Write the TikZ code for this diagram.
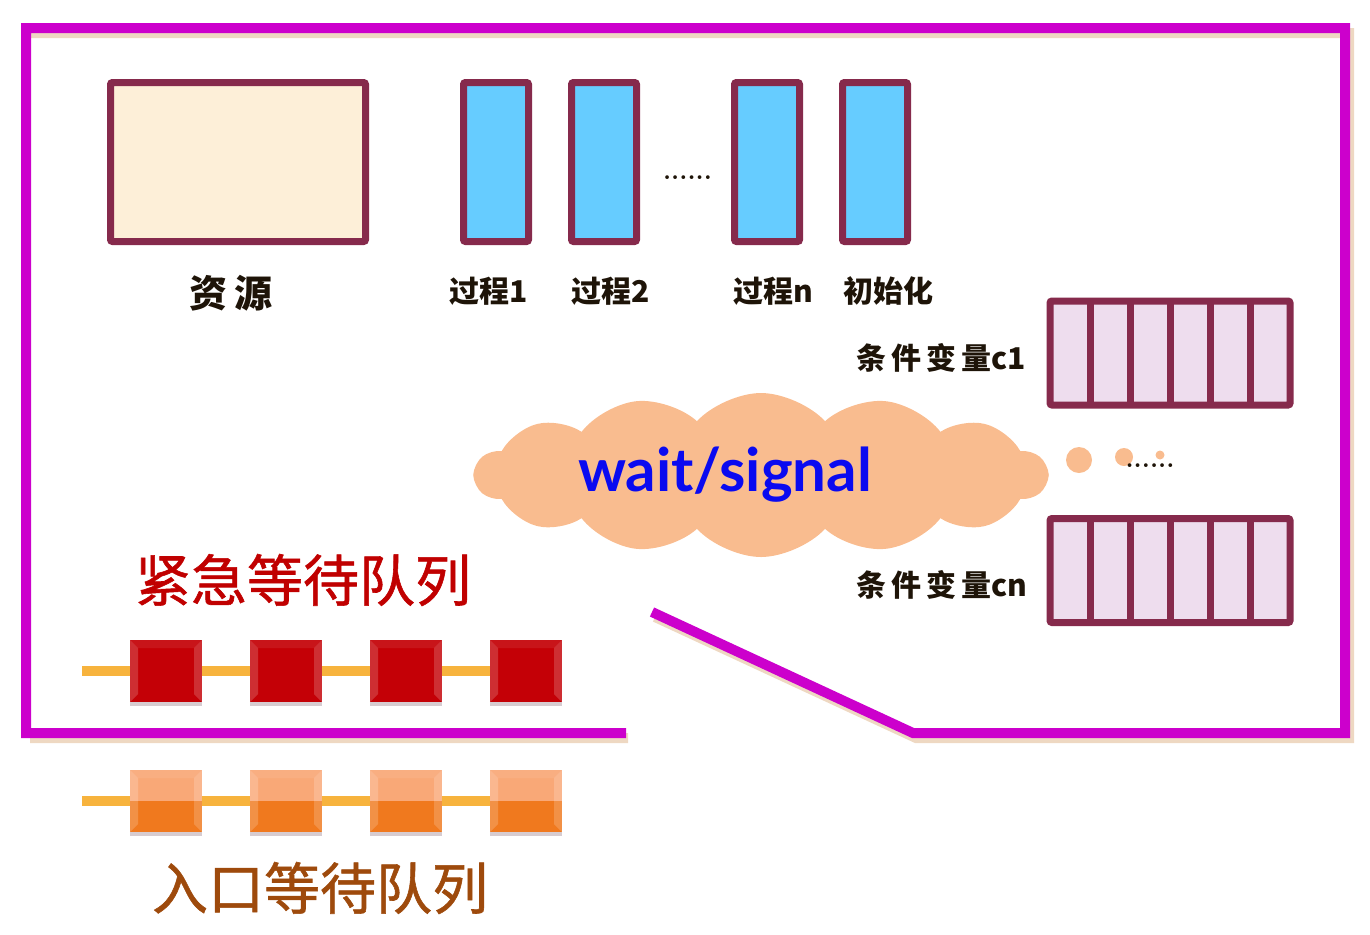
\documentclass[tikz,border=0pt]{standalone}
\usepackage{fontspec}
\usepackage{tikz}
\usetikzlibrary{positioning,calc,shapes.symbols,shadows}
\newfontfamily\cjk{Noto Sans CJK SC}
\newfontfamily\cjkmid{Noto Sans CJK SC}[FakeBold=1]
\newfontfamily\latn{Lato}
\definecolor{frame}{HTML}{CC00CC}
\definecolor{frameshade}{HTML}{EED8C2}
\definecolor{maroon}{HTML}{862A4C}
\definecolor{cream}{HTML}{FDEFD8}
\definecolor{sky}{HTML}{66CCFF}
\definecolor{lav}{HTML}{EEDDEE}
\definecolor{peach}{HTML}{F9BC8F}
\definecolor{redq}{HTML}{C40006}
\definecolor{orq}{HTML}{F0791E}
\definecolor{orlt}{HTML}{F9A877}
\definecolor{qbar}{HTML}{F7B33D}
\definecolor{ink}{HTML}{1E1408}
\definecolor{redtxt}{HTML}{C00000}
\definecolor{browntxt}{HTML}{9E4A0C}
\definecolor{sigblue}{HTML}{0A0AF0}

\newcommand\qbevel{%
  \fill[white,opacity=.18] (path picture bounding box.north west) -- ++(4pt,-4pt)
    -- ($(path picture bounding box.south west)+(4pt,4pt)$) -- (path picture bounding box.south west) -- cycle;
  \fill[white,opacity=.18] (path picture bounding box.north east) -- ++(-4pt,-4pt)
    -- ($(path picture bounding box.south east)+(-4pt,4pt)$) -- (path picture bounding box.south east) -- cycle;
  \fill[white,opacity=.08] (path picture bounding box.north west) -- ++(4pt,-4pt)
    -- ($(path picture bounding box.north east)+(-4pt,-4pt)$) -- (path picture bounding box.north east) -- cycle;}

\tikzset{
  box/.style={draw=maroon, line width=3.5pt, rounded corners=1pt, inner sep=0pt, outer sep=0pt},
  resbox/.style={box, fill=cream, minimum width=127.5pt, minimum height=79.5pt},
  procbox/.style={box, fill=sky, minimum width=32.5pt, minimum height=79.5pt},
  cvbox/.style={box, fill=lav, minimum width=120pt, minimum height=52pt},
  lbl/.style={font=\cjk\bfseries\fontsize{15}{18}\selectfont, text=ink, inner sep=0pt},
  dots/.style={font=\bfseries\fontsize{13}{14}\selectfont, text=ink, inner sep=0pt},
  qtitle/.style={font=\cjkmid\fontsize{28}{32}\selectfont, inner sep=0pt},
  qbox/.style={minimum width=36pt, minimum height=31pt, inner sep=0pt, outer sep=0pt,
    drop shadow={shadow xshift=0pt, shadow yshift=-2pt, opacity=.2, fill=black!70!purple}},
  redbox/.style={qbox, fill=redq, path picture={\qbevel}},
  orbox/.style={qbox, fill=orq, path picture={
    \fill[orlt] (path picture bounding box.north west) rectangle (path picture bounding box.east);
    \qbevel}},
  qline/.style={draw=qbar, line width=5pt},
  bub/.style={circle, fill=peach, inner sep=0pt},
}

\begin{document}
\begin{tikzpicture}[x=0.5pt, y=-0.5pt]
  \useasboundingbox (0,0) rectangle (1370,934);

  % outer frame
  \draw[frameshade, line width=5pt, line join=miter] (628,738) -- (30,738) (30,33) -- (1349,33) -- (1349,738) -- (916,738) -- (655,617);
  \draw[frame, line width=5pt, line join=miter] (626,733) -- (26,733) -- (26,28) -- (1345,28) -- (1345,733) -- (913,733) -- (652,612);

  % resource and processes
  \node[resbox] (res) at (238,162) {};
  \node[procbox] (p1) at (496,162) {};
  \node[procbox, right=21.5pt of p1] (p2) {};
  \node[procbox] (pn) at (767,162) {};
  \node[procbox, right=21.5pt of pn] (init) {};
  \node[dots] (pdots) at ($(p2)!0.5!(pn)+(2,16)$) {......};

  \node[lbl, font=\cjk\bfseries\fontsize{19}{22}\selectfont] (lres) at (231,293) {资\,源};
  \node[lbl] (lp1) at (489,291) {过程1};
  \node[lbl] (lp2) at (611,291) {过程2};
  \node[lbl] (lpn) at (773,291) {过程n};
  \node[lbl] (linit) at (888,291) {初始化};

  % condition variables
  \node[cvbox] (cv1) at (1170,353) {};
  \node[cvbox] (cvn) at (1170,570.5) {};
  \foreach \c in {cv1,cvn}
    \foreach \i in {1,...,5}
      \draw[maroon, line width=3.5pt] ($(\c.north west)!\i/6!(\c.north east)$) -- ($(\c.south west)!\i/6!(\c.south east)$);
  \node[lbl, anchor=east] (lcv1) at (1026,358) {条\,件\,变\,量c1};
  \node[lbl, anchor=east] (lcvn) at (1028,585) {条\,件\,变\,量cn};

  % wait/signal cloud
  \node[cloud, cloud puffs=14, cloud puff arc=95, aspect=3.5, fill=peach, inner sep=0pt,
        minimum width=286pt, minimum height=82pt] (cl) at (761,475) {};
  \node[font=\latn\bfseries\fontsize{30}{32}\selectfont, text=sigblue, inner sep=0pt] (ws) at (725,475) {wait/signal};
  \node[bub, minimum size=13pt] (b1) at (1079,460) {};
  \node[bub, minimum size=9pt] (b2) at (1124,457) {};
  \node[bub, minimum size=4.5pt] (b3) at (1160,455) {};
  \node[dots] (cdots) at (1150,466) {......};

  % urgent queue
  \node[qtitle, text=redtxt] (ltop) at (303,580) {紧急等待队列};
  \coordinate (rs) at (82,671);
  \foreach \i/\x in {1/166,2/286,3/406,4/526}
    \node[redbox] (r\i) at (\x,671) {};
  \draw[qline] (rs) -- (r1.west) (r1.east) -- (r2.west) (r2.east) -- (r3.west) (r3.east) -- (r4.west);

  % entry queue
  \coordinate (os) at (82,801);
  \foreach \i/\x in {1/166,2/286,3/406,4/526}
    \node[orbox] (o\i) at (\x,801) {};
  \draw[qline] (os) -- (o1.west) (o1.east) -- (o2.west) (o2.east) -- (o3.west) (o3.east) -- (o4.west);
  \node[qtitle, text=browntxt] (lbot) at (320,888) {入口等待队列};
\end{tikzpicture}
\end{document}
